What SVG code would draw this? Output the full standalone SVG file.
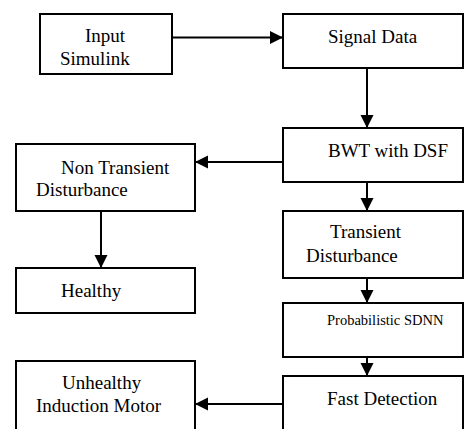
<svg xmlns="http://www.w3.org/2000/svg" width="465" height="429" viewBox="0 0 465 429">
<style>
.box{fill:#fff;stroke:#000;stroke-width:2}
text{font-family:'Liberation Serif','Times New Roman','DejaVu Serif',serif;font-size:19px;fill:#000}
text.s{font-size:14.5px}
.c{stroke:#000;stroke-width:2;fill:none;marker-end:url(#ah)}
</style>
<defs>
<marker id="ah" markerUnits="userSpaceOnUse" markerWidth="14" markerHeight="14" refX="13" refY="6.5" orient="auto" viewBox="0 0 14 13">
<path d="M0,0 L13,6.5 L0,13 Z" fill="#000"/>
</marker>
</defs>
<rect width="465" height="429" fill="#fff"/>
<g id="connectors">
<line class="c" x1="172" y1="37.5" x2="283" y2="37.5"/>
<line class="c" x1="367" y1="68" x2="367" y2="128"/>
<line class="c" x1="283" y1="162" x2="195" y2="162"/>
<line class="c" x1="101" y1="211" x2="101" y2="268"/>
<line class="c" x1="367" y1="182" x2="367" y2="211"/>
<line class="c" x1="367" y1="278" x2="367" y2="303"/>
<line class="c" x1="367" y1="357" x2="367" y2="376"/>
<line class="c" x1="283" y1="404" x2="195" y2="404"/>
</g>
<g id="input">
<rect class="box" x="40" y="14" width="132" height="60"/>
<text x="85" y="42">Input</text>
<text x="60" y="65">Simulink</text>
</g>
<g id="signal">
<rect class="box" x="283" y="14" width="180" height="54"/>
<text x="328" y="43">Signal Data</text>
</g>
<g id="bwt">
<rect class="box" x="283" y="128" width="180" height="54"/>
<text x="328" y="157">BWT with DSF</text>
</g>
<g id="nontransient">
<rect class="box" x="16" y="144" width="179" height="67"/>
<text x="61" y="174">Non Transient</text>
<text x="36" y="196">Disturbance</text>
</g>
<g id="transient">
<rect class="box" x="283" y="211" width="180" height="67"/>
<text x="330" y="238">Transient</text>
<text x="306" y="262">Disturbance</text>
</g>
<g id="healthy">
<rect class="box" x="16" y="268" width="179" height="45"/>
<text x="61" y="297">Healthy</text>
</g>
<g id="probabilistic">
<rect class="box" x="283" y="303" width="180" height="54"/>
<text class="s" x="327" y="325">Probabilistic SDNN</text>
</g>
<g id="fast">
<rect class="box" x="283" y="376" width="180" height="70"/>
<text x="327" y="405">Fast Detection</text>
</g>
<g id="unhealthy">
<rect class="box" x="16" y="361" width="179" height="85"/>
<text x="62" y="389">Unhealthy</text>
<text x="36" y="412">Induction Motor</text>
</g>
</svg>
